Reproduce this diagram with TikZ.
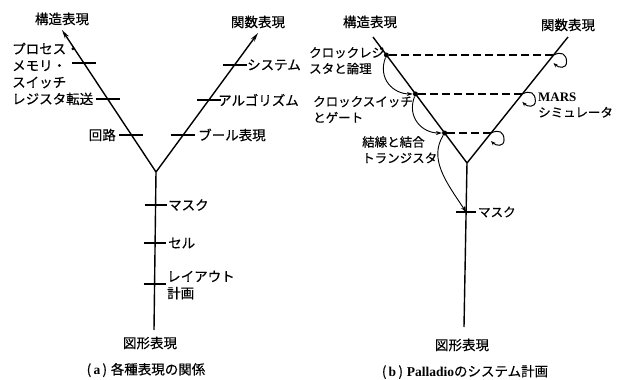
\documentclass[tikz,border=0pt]{standalone}
\usepackage{fontspec}
\usetikzlibrary{calc,arrows.meta}
\newfontfamily\jp[FakeBold=0.4]{Noto Sans CJK JP}
\newfontfamily\rmb{Liberation Serif}
\begin{document}
\begin{tikzpicture}[x=1pt,y=-1pt,
  axis/.style={line width=1.4pt},
  tick/.style={line width=1.2pt},
  dashline/.style={line width=1.1pt,dash pattern=on 8pt off 4pt},
  curv/.style={line width=0.9pt,-{Stealth[length=6pt,width=4pt]}},
  loopar/.style={line width=1pt,-{Stealth[length=4.5pt,width=3.5pt]}},
  lbl/.style={inner sep=0pt,font=\jp\fontsize{13.5}{16.7}\selectfont},
  lblb/.style={inner sep=0pt,font=\jp\fontsize{12.5}{16}\selectfont},
  ttl/.style={inner sep=0pt,font=\jp\fontsize{13.5}{16}\selectfont},
  dot/.style={circle,fill=black,inner sep=0pt,minimum size=5pt}]
\useasboundingbox[fill=white] (0,0) rectangle (622,380);
% ---------- (a) ----------
\coordinate (J1) at (156,172);
\coordinate (TL1) at (62,30);
\coordinate (TR1) at (258,33);
\coordinate (B1) at (154,330);
\draw[axis,-{Stealth[length=9pt,width=4.5pt]}] (J1) -- (TL1);
\draw[axis,-{Stealth[length=9pt,width=4.5pt]}] (J1) -- (TR1);
\draw[axis] (J1) -- (B1);
\node[ttl] (s1) at (62,19) {構造表現};
\node[ttl] (f1) at (258,22) {関数表現};
% left arm ticks
\coordinate (la) at ($(J1)!0.768!(TL1)$);
\coordinate (lb) at ($(J1)!0.514!(TL1)$);
\coordinate (lc) at ($(J1)!0.261!(TL1)$);
\foreach \p in {la,lb,lc} \draw[tick] ($(\p)+(-12,0)$) -- ($(\p)+(12,0)$);
\node[lbl,align=left,anchor=north west] (pms) at (12,42.5) {プロセス・\\メモリ・\\スイッチ\\レジスタ転送};
\node[lbl,anchor=east] (kai) at (116,135) {回路};
% right arm ticks
\coordinate (ra) at ($(J1)!0.770!(TR1)$);
\coordinate (rb) at ($(J1)!0.518!(TR1)$);
\coordinate (rc) at ($(J1)!0.266!(TR1)$);
\foreach \p in {ra,rb,rc} \draw[tick] ($(\p)+(-12,0)$) -- ($(\p)+(12,0)$);
\node[lbl,anchor=west] (sys) at (247,65) {システム};
\node[lbl,anchor=west] (alg) at (218,100) {アルゴリズム};
\node[lbl,anchor=west] (bool) at (198,135) {ブール表現};
% vertical ticks
\coordinate (va) at ($(J1)!0.209!(B1)$);
\coordinate (vb) at ($(J1)!0.449!(B1)$);
\coordinate (vc) at ($(J1)!0.709!(B1)$);
\foreach \p in {va,vb,vc} \draw[tick] ($(\p)+(-11,0)$) -- ($(\p)+(11,0)$);
\node[lbl,anchor=west] (mask1) at (168,205) {マスク};
\node[lbl,anchor=west] (cell) at (168,243) {セル};
\node[lbl,align=left,anchor=west] (lay) at (167,285) {レイアウト\\計画};
\node[ttl] (g1) at (150,343) {図形表現};
\node[ttl] (cap1) at (146,370) {(\,{\rmb\bfseries a}\,)\;各種表現の関係};
% ---------- (b) ----------
\coordinate (J2) at (467,163);
\coordinate (TL2) at (373,37);
\coordinate (TR2) at (568,37);
\coordinate (B2) at (464,327);
\draw[axis] (J2) -- (TL2);
\draw[axis] (J2) -- (TR2);
\draw[axis] (J2) -- (B2);
\node[ttl] (s2) at (370,22) {構造表現};
\node[ttl] (f2) at (568,25) {関数表現};
\node[dot] (D1) at ($(J2)!0.857!(TL2)$) {};
\node[dot] (D2) at ($(J2)!0.548!(TL2)$) {};
\node[dot] (D3) at ($(J2)!0.238!(TL2)$) {};
\coordinate (R1) at ($(J2)!0.857!(TR2)$);
\coordinate (R2) at ($(J2)!0.548!(TR2)$);
\coordinate (R3) at ($(J2)!0.238!(TR2)$);
\draw[dashline] (D1) -- (R1);
\draw[dashline] (D2) -- (R2);
\draw[dashline] (D3) -- (R3);
\foreach \r in {R1,R2,R3}
  \draw[loopar] (\r) .. controls +(8,-4) and +(0,-8) .. ($(\r)+(13,7)$)
                     .. controls +(0,7) and +(5,5) .. ($(\r)+(0,8)$);
\coordinate (M2) at ($(J2)!0.299!(B2)$);
\draw[tick] ($(M2)+(-10,0)$) -- ($(M2)+(10,0)$);
\draw[curv] (D1) .. controls +(-9,24) and +(-22,0) .. (D2);
\draw[curv] (D2) .. controls +(-9,24) and +(-22,0) .. (D3);
\draw[curv] (D3) .. controls +(-16,26) and +(-20,-30) .. (M2);
\node[lblb,align=left,anchor=north west] (ckr) at (309,47) {クロックレジ\\スタと論理};
\node[lblb,align=left,anchor=north west] (cks) at (313,96) {クロックスイッチ\\とゲート};
\node[lblb,align=left,anchor=north west] (ktr) at (362,136) {結線と結合\\トランジスタ};
\node[lblb,align=left,anchor=west] (mars) at (538,105) {{\rmb\bfseries\fontsize{13}{16}\selectfont MARS}\\シミュレータ};
\node[lblb,anchor=west] (mask2) at (478,212) {マスク};
\node[ttl] (g2) at (462,345) {図形表現};
\node[ttl] (cap2) at (465,372) {(\,{\rmb\bfseries b}\,)\;{\rmb\bfseries Palladio}のシステム計画};
\end{tikzpicture}
\end{document}
